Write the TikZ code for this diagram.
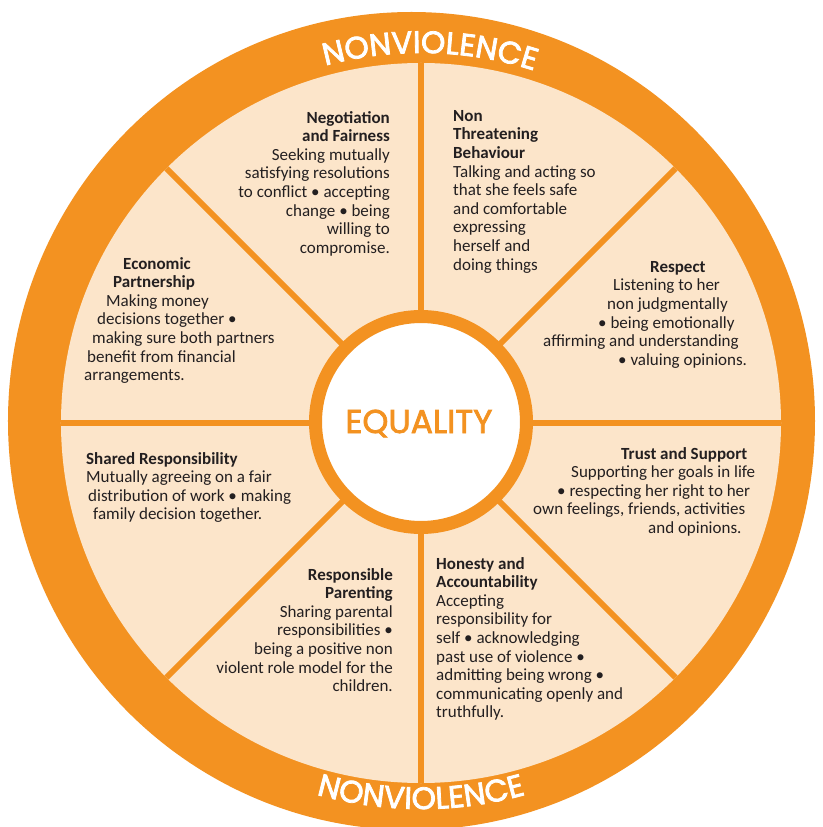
\documentclass[tikz,border=0pt]{standalone}
\usepackage{fontspec}
\setmainfont{Carlito}
\newfontfamily\geofont[FakeBold=2.2]{Poppins}
\newfontfamily\ringfont[FakeBold=2.5,LetterSpace=28]{Poppins}
\usetikzlibrary{decorations.text}
\definecolor{wheelorange}{RGB}{243,146,33}
\definecolor{wheelbeige}{RGB}{252,229,202}
\definecolor{ink}{RGB}{35,31,32}
\tikzset{
    every node/.append style={font=\fontsize{17}{18.6}\selectfont}}

\begin{document}
\begin{tikzpicture}
  [x=1pt,y=1pt,
   spoke/.style={draw=wheelorange,line width=6pt},
   blurb/.style={inner sep=0pt,text=ink},
   ringtext/.style={decorate,decoration={text along path,text align=center,
     text color=white,text={|\ringfont\fontsize{31}{31}\selectfont|#1}}}
  ]
  \useasboundingbox (-421,-404) rectangle (401,423);
  \clip (-421,-404) rectangle (401,423);
  \fill[wheelorange] (-9.5,2) ellipse [x radius=403.5, y radius=409];
  \fill[wheelbeige] (0,0) circle [radius=360];
  \foreach \a in {0,45,...,315}
    \draw[spoke] (\a:100) -- (\a:360);
  \node[circle,fill=white,draw=wheelorange,line width=13pt,minimum size=211pt,inner sep=0pt] (hub) at (0,1) {};
  \node[font=\geofont\fontsize{33}{33}\selectfont,text=wheelorange,anchor=base] (equality) at (-2,-10) {EQUALITY};

  \path[ringtext=NONVIOLENCE] (148.6:370) arc[start angle=148.6,end angle=28.6,radius=370];
  \path[ringtext=NONVIOLENCE] (210:386) arc[start angle=210,end angle=330,radius=386];

  \node[blurb,anchor=north east,align=right] (fair) at (-31,312)
    {\textbf{Negotiation}\\ \textbf{and Fairness}\\ Seeking mutually\\ satisfying resolutions\\
     to conflict • accepting\\ change • being\\ willing to\\ compromise.};
  \node[blurb,anchor=north west,align=left] (threat) at (32,313)
    {\textbf{Non}\\ \textbf{Threatening}\\ \textbf{Behaviour}\\ Talking and acting so\\
     that she feels safe\\ and comfortable\\ expressing\\ herself and\\ doing things};
  \node[blurb,anchor=north west,align=left] (respect) at (122,162)
    {\hspace*{107pt}\textbf{Respect}\\ \hspace*{70pt}Listening to her\\ \hspace*{64pt}non judgmentally\\
     \hspace*{55pt}• being emotionally\\ affirming and understanding\\ \hspace*{75pt}• valuing opinions.};
  \node[blurb,anchor=north west,align=left] (trust) at (112,-24)
    {\hspace*{88pt}\textbf{Trust and Support}\\ \hspace*{38pt}Supporting her goals in life\\
     \hspace*{24pt}• respecting her right to her\\ own feelings, friends, activities\\ \hspace*{115pt}and opinions.};
  \node[blurb,anchor=north west,align=left] (honesty) at (15,-134)
    {\textbf{Honesty and}\\ \textbf{Accountability}\\ Accepting\\ responsibility for\\ self • acknowledging\\
     past use of violence •\\ admitting being wrong •\\ communicating openly and\\ truthfully.};
  \node[blurb,anchor=north east,align=right] (parenting) at (-28,-145)
    {\textbf{Responsible}\\ \textbf{Parenting}\\ Sharing parental\\ responsibilities •\\
     being a positive non\\ violent role model for the\\ children.};
  \node[blurb,anchor=north west,align=left] (shared) at (-335,-29)
    {\textbf{Shared Responsibility}\\ Mutually agreeing on a fair\\ \hspace*{2pt}distribution of work • making\\
     \hspace*{7pt}family decision together.};
  \node[blurb,anchor=north west,align=left] (economic) at (-337,166)
    {\hspace*{39pt}\textbf{Economic}\\ \hspace*{29pt}\textbf{Partnership}\\ \hspace*{22pt}Making money\\
     \hspace*{13pt}decisions together •\\ \hspace*{8pt}making sure both partners\\ \hspace*{3pt}benefit from financial\\ arrangements.};
\end{tikzpicture}
\end{document}
